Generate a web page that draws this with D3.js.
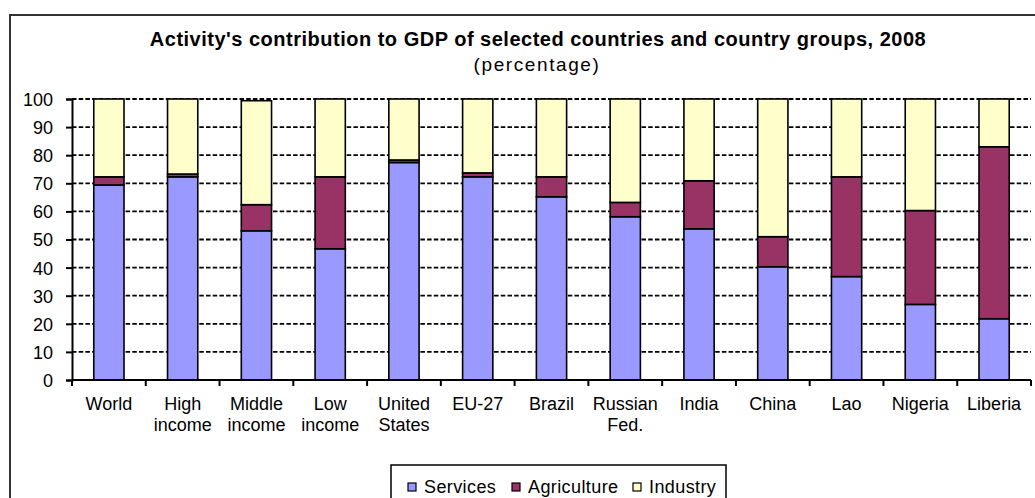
<!DOCTYPE html>
<html>
<head>
<meta charset="utf-8">
<script src="https://cdnjs.cloudflare.com/ajax/libs/d3/7.8.5/d3.min.js"></script>
<style>
  html, body { margin: 0; padding: 0; background: #fff; }
  svg text { font-family: Arial, "Liberation Sans", sans-serif; fill: #000; }
</style>
</head>
<body>
<div id="chart"></div>
<script>
// data (percent of GDP)
const categories = ['World', 'High|income', 'Middle|income', 'Low|income', 'United|States', 'EU-27',
    'Brazil', 'Russian|Fed.', 'India', 'China', 'Lao', 'Nigeria', 'Liberia'];
const services    = [69.4, 72.3, 53.1, 46.7, 77.4, 72.3, 65.2, 58.1, 53.8, 40.3, 36.8, 26.9, 21.8];
const agriculture = [ 2.9,  1.0,  9.3, 25.6,  0.9,  1.4,  7.1,  5.1, 17.1, 10.7, 35.5, 33.4, 61.2];
const industry    = [27.7, 26.7, 37.0, 27.7, 21.7, 26.3, 27.7, 36.8, 29.1, 49.0, 27.7, 39.7, 17.0];
const seriesNames = ['Services', 'Agriculture', 'Industry'];
const seriesColors = ['#9999ff', '#993366', '#ffffcc'];
const yTicks = [0, 10, 20, 30, 40, 50, 60, 70, 80, 90, 100];

const width = 1035, height = 498;
const plot = { left: 72, right: 1031, top: 99, bottom: 380 };

const svg = d3.select('#chart')
    .append('svg')
    .attr('width', width)
    .attr('height', height);

// outer chart frame
svg.append('rect')
    .attr('x', 10)
    .attr('y', 15)
    .attr('width', 1080)
    .attr('height', 520)
    .attr('fill', '#fff')
    .attr('stroke', '#333')
    .attr('stroke-width', 2);

svg.append('text')
    .attr('x', 538)
    .attr('y', 46)
    .attr('text-anchor', 'middle')
    .style('font-size', '20px')
    .style('font-weight', 'bold')
    .style('letter-spacing', '0.5px')
    .text("Activity's contribution to GDP of selected countries and country groups, 2008");

svg.append('text')
    .attr('x', 537)
    .attr('y', 71)
    .attr('text-anchor', 'middle')
    .style('font-size', '19px')
    .style('letter-spacing', '1.6px')
    .text('(percentage)');

const rows = categories.map((c, i) => ({
    cat: c,
    Services: services[i],
    Agriculture: agriculture[i],
    Industry: industry[i]
}));

const x = d3.scaleBand()
    .domain(categories)
    .range([plot.left, plot.right])
    .paddingInner(0.59)
    .paddingOuter(0.295);

const y = d3.scaleLinear()
    .domain([0, 100])
    .range([plot.bottom, plot.top]);

// dashed gridlines
svg.append('g')
    .selectAll('line')
    .data(yTicks.slice(1))
    .enter()
    .append('line')
    .attr('x1', plot.left)
    .attr('x2', plot.right)
    .attr('y1', d => y(d))
    .attr('y2', d => y(d))
    .attr('stroke', '#000')
    .attr('stroke-width', 1.8)
    .attr('stroke-dasharray', '4.5,2.2');

const stacked = d3.stack().keys(seriesNames)(rows);

svg.append('g')
    .selectAll('g')
    .data(stacked)
    .enter()
    .append('g')
    .attr('fill', (d, i) => seriesColors[i])
    .selectAll('rect')
    .data(d => d)
    .enter()
    .append('rect')
    .attr('x', d => x(d.data.cat))
    .attr('width', x.bandwidth())
    .attr('y', d => y(d[1]))
    .attr('height', d => y(d[0]) - y(d[1]))
    .attr('stroke', '#000')
    .attr('stroke-width', 1.6);

// y axis
const yAxis = svg.append('g')
    .attr('transform', `translate(${plot.left},0)`)
    .call(d3.axisLeft(y).tickValues(yTicks).tickSize(6).tickPadding(13));
yAxis.select('.domain').attr('stroke-width', 2);
yAxis.selectAll('.tick line').attr('stroke-width', 2);
yAxis.selectAll('text')
    .style('font-size', '18px')
    .attr('dy', '0.36em');

// x axis with ticks between categories
const xAxis = svg.append('g')
    .attr('transform', `translate(0,${plot.bottom})`);
xAxis.append('line')
    .attr('x1', plot.left)
    .attr('x2', plot.right)
    .attr('stroke', '#000')
    .attr('stroke-width', 2);
const step = x.step();
xAxis.selectAll('.xtick')
    .data(d3.range(categories.length + 1))
    .enter()
    .append('line')
    .attr('class', 'xtick')
    .attr('x1', i => plot.left + i * step)
    .attr('x2', i => plot.left + i * step)
    .attr('y1', 0)
    .attr('y2', 6)
    .attr('stroke', '#000')
    .attr('stroke-width', 2);

const labels = xAxis.selectAll('.xlabel')
    .data(categories)
    .enter()
    .append('text')
    .attr('class', 'xlabel')
    .attr('text-anchor', 'middle')
    .attr('transform', d => `translate(${x(d) + x.bandwidth() / 2},0)`)
    .style('font-size', '18px');
labels.each(function(d) {
    const parts = d.split('|');
    const t = d3.select(this);
    parts.forEach((p, j) => {
        t.append('tspan')
            .attr('x', 0)
            .attr('y', 30 + j * 21)
            .text(p);
    });
});

// legend
const legend = svg.append('g')
    .attr('transform', 'translate(391,465)');
legend.append('rect')
    .attr('width', 335)
    .attr('height', 60)
    .attr('fill', '#fff')
    .attr('stroke', '#000')
    .attr('stroke-width', 1.5);
const legendX = [17, 121, 242];
seriesNames.forEach((name, i) => {
    legend.append('rect')
        .attr('x', legendX[i])
        .attr('y', 18)
        .attr('width', 8)
        .attr('height', 8)
        .attr('fill', seriesColors[i])
        .attr('stroke', '#000')
        .attr('stroke-width', 1.2);
    legend.append('text')
        .attr('x', legendX[i] + 16)
        .attr('y', 28)
        .style('font-size', '18px')
        .style('letter-spacing', '0.4px')
        .text(name);
});
</script>
</body>
</html>
